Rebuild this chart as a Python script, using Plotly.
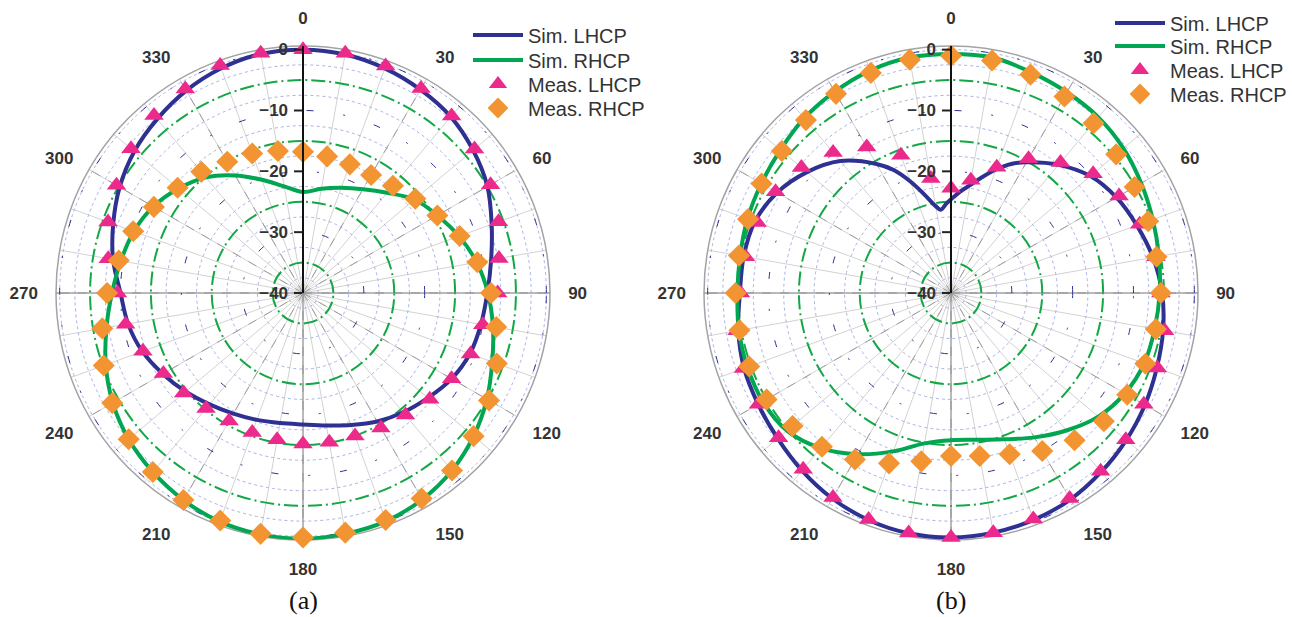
import plotly.graph_objects as go

# ---------------- data (dB vs. angle in degrees) ----------------
ANGLES = list(range(0, 360, 10))
ANGLE_LABELS = [str(a) if a % 30 == 0 else "" for a in ANGLES]
RADIAL_TICKS = [-40, -30, -20, -10, 0]
SERIES_NAMES = ["Sim. LHCP", "Sim. RHCP", "Meas. LHCP", "Meas. RHCP"]

# (a)
a_sim_lhcp = [0, -0.2, -0.7, -1.4, -2.2, -3.5, -5.0, -7.0, -8.6, -9.7,
              -10.3, -10.8, -11.8, -13.2, -14.4, -15.6, -16.9, -17.9, -18.4, -18.3,
              -17.8, -17.1, -16.1, -14.8, -13.4, -11.9, -10.8, -10.0, -8.3, -6.8,
              -5.2, -3.8, -2.7, -1.6, -0.7, -0.1]
a_sim_rhcp = [-23.4, -22.6, -21.6, -20.3, -18.5, -16.1, -14.5, -12.7, -11.0, -9.6,
              -8.3, -6.9, -5.1, -3.4, -1.9, -0.8, -0.1, 0.2, 0.4, 0.3,
              0.0, -0.7, -1.6, -2.6, -3.9, -5.5, -7.2, -8.6, -9.6, -10.4,
              -11.6, -13.3, -15.2, -17.7, -20.2, -22.2]
a_meas_lhcp = [0, 0, -0.3, -1.2, -2.0, -3.2, -4.4, -5.8, -7.3, -8.0,
               -10.0, -10.7, -11.8, -12.8, -13.8, -14.4, -15.0, -15.1, -15.2, -15.5,
               -15.6, -15.7, -15.2, -14.4, -13.5, -12.0, -10.4, -9.5, -7.5, -5.9,
               -4.6, -3.1, -1.9, -1.3, -0.2, 0]
a_meas_rhcp = [-16.8, -17.2, -17.5, -17.6, -17.0, -15.9, -14.5, -12.6, -10.9, -9.1,
               -7.75, -6.1, -4.7, -3.4, -1.9, -1.0, -0.3, 0.0, 0.2, 0.2,
               -0.2, -0.7, -1.6, -2.6, -3.8, -5.15, -6.5, -7.8, -9.25, -10.3,
               -11.7, -13.1, -14.0, -15.1, -15.6, -16.3]

# (b)
b_sim_lhcp_theta = [0, 5, 10, 15, 20, 25, 30, 40, 50, 60, 70, 80, 90,
                    100, 110, 120, 130, 140, 150, 160, 170, 180, 190, 200,
                    210, 220, 230, 240, 250, 260, 270, 280, 290, 300, 310,
                    320, 330, 335, 340, 345, 350, 353, 357]
b_sim_lhcp = [-24.6, -23.3, -22.0, -20.3, -18.4, -16.6, -15.2, -12.5, -10.1, -8.6, -7.5, -6.3, -5.3,
              -4.6, -4.0, -3.2, -2.4, -1.6, -0.8, -0.3, 0.0, 0.2, 0.1, -0.3,
              -1.0, -1.9, -2.8, -3.4, -3.8, -4.5, -5.3, -5.4, -5.7, -7.0, -9.1,
              -11.7, -15.5, -17.7, -20.5, -23.3, -25.5, -26.2, -25.3]
b_sim_rhcp = [-0.7, -0.7, -1.4, -1.9, -2.3, -3.0, -3.9, -4.7, -5.3, -5.7,
              -6.0, -6.2, -7.0, -8.4, -10.5, -12.6, -14.4, -15.5, -15.8, -14.9,
              -12.3, -9.4, -6.7, -4.8, -4.3, -4.4, -4.6, -4.9, -4.8, -4.4,
              -4.0, -3.4, -2.5, -1.8, -1.1, -0.7]
b_meas_lhcp = [-22.8, -21.2, -18.0, -14.5, -12.0, -9.5, -8.1, -7.0, -5.8, -5.5,
               -4.35, -3.9, -3.4, -2.5, -1.75, -1.0, -0.45, 0.0, 0.2, 0.05,
               -0.4, -1.2, -2.2, -3.0, -3.45, -3.7, -4.3, -5.4, -5.7, -6.1,
               -6.7, -7.9, -9.85, -12.3, -15.9, -20.9]
b_meas_rhcp = [-1.0, -1.2, -1.8, -2.7, -3.55, -4.55, -5.15, -5.5, -5.7, -5.5,
               -5.8, -6.0, -6.55, -7.2, -8.4, -10.0, -11.8, -12.8, -13.2, -11.9,
               -10.2, -8.4, -7.0, -6.0, -5.0, -4.7, -4.7, -4.6, -4.6, -4.5,
               -4.05, -3.7, -2.9, -2.2, -1.5, -1.05]

# ---------------- styling ----------------
W, H = 1292, 617
R_MIN, R_MAX = -40, 0.6
BLUE, GREEN = "#2e3192", "#00a651"
PINK, ORANGE = "#ec2a8c", "#f39433"
TXT = "#333333"
FONT = "Arial, Liberation Sans, sans-serif"
SERIF = "Liberation Serif, Times New Roman, serif"

PANELS = [
    dict(cx=303, cy=293, rad=247, caption="(a)",
         legend_x=468, legend_rows=[35, 60, 84, 108],
         sim_l=(ANGLES, a_sim_lhcp), sim_r=(ANGLES, a_sim_rhcp),
         meas_l=a_meas_lhcp, meas_r=a_meas_rhcp),
    dict(cx=951, cy=293, rad=247, caption="(b)",
         legend_x=1110, legend_rows=[23, 46, 70, 94],
         sim_l=(b_sim_lhcp_theta, b_sim_lhcp), sim_r=(ANGLES, b_sim_rhcp),
         meas_l=b_meas_lhcp, meas_r=b_meas_rhcp),
]


def closed(theta, r):
    return list(theta) + [theta[0] + 360], list(r) + [r[0]]


def placeholder(subplot):
    # an invisible trace so that a grid-only polar subplot gets rendered
    return go.Scatterpolar(theta=[0], r=[R_MIN], mode="markers",
                           marker=dict(opacity=0), showlegend=False,
                           hoverinfo="skip", subplot=subplot)


fig = go.Figure()
layout = {}
annotations = []
n = 0
leg_n = 0
for p in PANELS:
    dom = dict(x=[(p["cx"] - p["rad"]) / W, (p["cx"] + p["rad"]) / W],
               y=[1 - (p["cy"] + p["rad"]) / H, 1 - (p["cy"] - p["rad"]) / H])
    names = []
    for _ in range(3):
        n += 1
        names.append("polar" if n == 1 else f"polar{n}")
    base, mid, top = names

    # fine grid: 10-degree spokes, dotted rings, angle labels
    layout[base] = dict(
        domain=dom, bgcolor="white",
        angularaxis=dict(rotation=90, direction="clockwise",
                         tickmode="array", tickvals=ANGLES, ticktext=ANGLE_LABELS,
                         ticks="outside", ticklen=14, tickcolor="rgba(0,0,0,0)",
                         tickfont=dict(family=FONT, size=17, color=TXT, weight="bold"),
                         showline=True, linecolor="#a3a3a3", linewidth=1.5,
                         showgrid=True, gridcolor="#d2d2d2", gridwidth=0.8),
        radialaxis=dict(range=[R_MIN, R_MAX], tickmode="array",
                        tickvals=[-37.5, -32.5, -27.5, -22.5, -17.5, -12.5, -7.5, -2.5, 0],
                        showticklabels=False, ticks="", showline=False,
                        showgrid=True, gridcolor="#a7b2e6", gridwidth=0.8, griddash="dot"),
    )
    # 30-degree dashed spokes, green dash-dot rings
    layout[mid] = dict(
        domain=dom, bgcolor="rgba(0,0,0,0)",
        angularaxis=dict(rotation=90, direction="clockwise",
                         tickmode="array", tickvals=list(range(0, 360, 30)),
                         showticklabels=False, ticks="", showline=False,
                         showgrid=True, gridcolor="#9c9c9c", gridwidth=1, griddash="dash"),
        radialaxis=dict(range=[R_MIN, R_MAX], tickmode="array", tickvals=[-35, -25, -15, -5],
                        showticklabels=False, ticks="", showline=False,
                        showgrid=True, gridcolor="#13a845", gridwidth=1.6,
                        griddash="14px,4px,2px,4px"),
    )
    # main axes: cross lines, labelled radial axis, navy rings, data
    layout[top] = dict(
        domain=dom, bgcolor="rgba(0,0,0,0)",
        angularaxis=dict(rotation=90, direction="clockwise",
                         tickmode="array", tickvals=[0, 90, 180, 270],
                         showticklabels=False, ticks="", showline=False,
                         showgrid=True, gridcolor="#8a8a8a", gridwidth=1.3),
        radialaxis=dict(range=[R_MIN, R_MAX], angle=90, side="counterclockwise",
                        tickangle=90,
                        tickmode="array", tickvals=RADIAL_TICKS,
                        ticks="outside", ticklen=8, tickcolor="#222", tickwidth=2,
                        tickfont=dict(family=FONT, size=17, color=TXT, weight="bold"),
                        showline=True, linecolor="#111", linewidth=2,
                        showgrid=True, gridcolor=BLUE, gridwidth=1.3,
                        griddash="7px,30px,2px,30px"),
    )

    fig.add_trace(placeholder(base))
    fig.add_trace(placeholder(mid))

    # one legend per entry so each row sits at its own height
    legs = []
    for row_y in p["legend_rows"]:
        leg_n += 1
        key = "legend" if leg_n == 1 else f"legend{leg_n}"
        legs.append(key)
        layout[key] = dict(font=dict(family=FONT, size=20, color=TXT),
                           bgcolor="rgba(0,0,0,0)", borderwidth=0, itemwidth=50,
                           x=p["legend_x"] / W, y=1 - row_y / H,
                           xanchor="left", yanchor="middle")

    th, rr = closed(*p["sim_l"])
    fig.add_trace(go.Scatterpolar(theta=th, r=rr, mode="lines", name=SERIES_NAMES[0],
                                  line=dict(color=BLUE, width=4, shape="spline"),
                                  subplot=top, legend=legs[0]))
    th, rr = closed(*p["sim_r"])
    fig.add_trace(go.Scatterpolar(theta=th, r=rr, mode="lines", name=SERIES_NAMES[1],
                                  line=dict(color=GREEN, width=4, shape="spline"),
                                  subplot=top, legend=legs[1]))
    fig.add_trace(go.Scatterpolar(theta=ANGLES, r=p["meas_l"], mode="markers", name=SERIES_NAMES[2],
                                  marker=dict(symbol="triangle-up", size=17, color=PINK),
                                  subplot=top, legend=legs[2]))
    fig.add_trace(go.Scatterpolar(theta=ANGLES, r=p["meas_r"], mode="markers", name=SERIES_NAMES[3],
                                  marker=dict(symbol="diamond", size=17, color=ORANGE),
                                  subplot=top, legend=legs[3]))

    annotations.append(dict(text=p["caption"], x=p["cx"] / W, y=1 - 600 / H,
                            xref="paper", yref="paper", xanchor="center", yanchor="middle",
                            showarrow=False, font=dict(family=SERIF, size=26, color="#111")))

fig.update_layout(
    width=W, height=H, margin=dict(l=0, r=0, t=0, b=0),
    paper_bgcolor="white", template="none", showlegend=True,
    annotations=annotations,
    **layout,
)

fig.write_html("out.html")
